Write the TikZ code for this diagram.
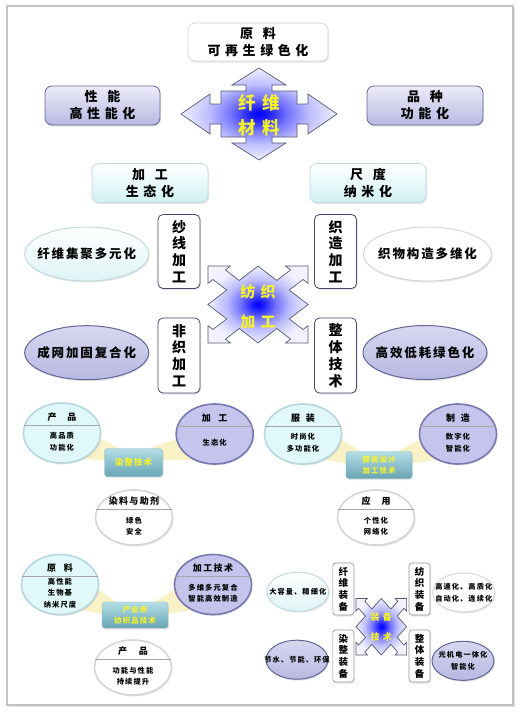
\documentclass[tikz,border=0pt]{standalone}
\usepackage{fontspec}
\setmainfont{Noto Sans CJK SC}
\newfontfamily\widefont{Noto Sans CJK SC}[LetterSpace=35]
\newfontfamily\midfont{Noto Sans CJK SC}[LetterSpace=15]
\usetikzlibrary{shapes.geometric,shadows,calc,backgrounds}

\definecolor{lavtop}{RGB}{236,236,250}
\definecolor{lavbot}{RGB}{184,184,226}
\definecolor{lavline}{RGB}{100,100,150}
\definecolor{cyanbot}{RGB}{208,240,242}
\definecolor{cyanline}{RGB}{196,218,222}
\definecolor{navyline}{RGB}{72,72,110}
\definecolor{tealtop}{RGB}{180,222,230}
\definecolor{tealbot}{RGB}{104,164,180}
\definecolor{txtyellow}{RGB}{246,242,40}
\definecolor{glowy}{RGB}{250,240,190}
\definecolor{framegray}{RGB}{195,195,195}
\definecolor{ringgray}{RGB}{214,214,214}
\definecolor{cyanfill}{RGB}{224,248,250}
\definecolor{cyanring}{RGB}{184,214,220}
\definecolor{lavfill}{RGB}{196,196,236}
\definecolor{lavring}{RGB}{120,120,176}

\pgfdeclareradialshading{bluecore}{\pgfpoint{0bp}{0bp}}{%
  color(0bp)=(blue); color(3bp)=(blue!88!white); color(9bp)=(blue!55!white);
  color(16bp)=(blue!26!white); color(25bp)=(blue!6!white); color(50bp)=(white)}

% cross arrow, arms on the diagonals (unit frame, tips at distance 2)
\newcommand{\xarrowshape}{(1,-1) -- (1,-.25) -- (1.55,-.25) -- (1.55,-.45) -- (2,0)
  -- (1.55,.45) -- (1.55,.25) -- (1,.25) -- (1,1) -- (.25,1) -- (.25,1.55) -- (.45,1.55)
  -- (0,2) -- (-.45,1.55) -- (-.25,1.55) -- (-.25,1) -- (-1,1) -- (-1,.25) -- (-1.55,.25)
  -- (-1.55,.45) -- (-2,0) -- (-1.55,-.45) -- (-1.55,-.25) -- (-1,-.25) -- (-1,-1)
  -- (-.25,-1) -- (-.25,-1.55) -- (-.45,-1.55) -- (0,-2) -- (.45,-1.55) -- (.25,-1.55)
  -- (.25,-1) -- cycle}

% round badge with title, divider and body
\newcommand{\disc}[6]{%
  \node[#4] (#1) at (#2,#3) {};
  \draw[divline] (#1.168) -- (#1.12);
  \node[disctitle] (#1-t) at (#2,#3-16) {#5};
  \node[discbody] (#1-b) at (#2,#3+8.5) {#6};
}

\tikzset{
  softshadow/.style={drop shadow={shadow xshift=1pt,shadow yshift=-1.5pt,opacity=.2}},
  outerframe/.style={draw=framegray,line width=1.5pt,fill=white,
    drop shadow={shadow xshift=1.5pt,shadow yshift=-1.5pt,opacity=.25}},
  headbox/.style={rectangle,rounded corners=7pt,minimum width=116pt,minimum height=39pt,
    align=center,inner sep=1pt,font=\widefont\bfseries\fontsize{13}{17}\selectfont,softshadow},
  lavbox/.style={headbox,draw=lavline,line width=.8pt,top color=lavtop,bottom color=lavbot},
  cyanbox/.style={headbox,draw=cyanline,line width=.8pt,top color=white,bottom color=cyanbot},
  whitebox/.style={headbox,draw=ringgray,line width=.8pt,fill=white},
  vbox/.style={rectangle,rounded corners=5pt,draw=navyline,line width=.8pt,fill=white,
    minimum width=42pt,minimum height=74pt,align=center,inner sep=1pt,
    font=\bfseries\fontsize{14}{16.8}\selectfont,softshadow},
  smallv/.style={vbox,rounded corners=3pt,line width=.6pt,draw=navyline!60,
    minimum width=21pt,minimum height=52pt,font=\bfseries\fontsize{9.5}{11.7}\selectfont},
  oval/.style={ellipse,inner sep=0pt,line width=1pt,softshadow},
  bigoval/.style={minimum width=124pt,minimum height=54pt},
  smalloval/.style={minimum width=62pt,minimum height=39pt},
  ovalcyan/.style={oval,draw=cyanline,top color=white,bottom color=cyanbot!70},
  ovalwhite/.style={oval,draw=ringgray,fill=white},
  ovallav/.style={oval,draw=lavline,top color=lavtop!60!lavbot,bottom color=lavbot},
  ovaltext/.style={align=center,font=\midfont\bfseries\fontsize{12.5}{15}\selectfont},
  smalltext/.style={align=center,font=\midfont\bfseries\fontsize{7.2}{11.7}\selectfont},
  disc/.style={ellipse,inner sep=0pt,minimum width=77pt,minimum height=60pt,line width=1.6pt,softshadow},
  disccyan/.style={disc,draw=cyanring,fill=cyanfill},
  disclav/.style={disc,draw=lavring,fill=lavfill},
  discwhite/.style={disc,draw=ringgray,fill=white,minimum height=55pt},
  divline/.style={draw=gray!70,line width=.5pt},
  disctitle/.style={font=\midfont\bfseries\fontsize{9}{11}\selectfont},
  discbody/.style={align=center,font=\midfont\bfseries\fontsize{7.3}{11.5}\selectfont},
  techbox/.style={rectangle,rounded corners=3pt,draw=tealbot!80,top color=tealtop,bottom color=tealbot,
    minimum width=58pt,minimum height=28pt,align=center,inner sep=1pt,text=txtyellow,
    font=\midfont\bfseries\fontsize{8.3}{11}\selectfont,softshadow},
  techtwo/.style={techbox,minimum width=66pt,minimum height=27pt,font=\midfont\bfseries\fontsize{7.4}{10.5}\selectfont},
  glow/.style={fill=glowy,fill opacity=.85},
  quadarrow/.style={draw=navyline!70!gray,line width=.7pt,shading=bluecore},
  coretext/.style={align=center,text=txtyellow,font=\widefont\bfseries\fontsize{17.5}{25}\selectfont},
}

\begin{document}
\begin{tikzpicture}[x=1pt,y=-1pt]
\useasboundingbox (0,0) rectangle (520,713);
\begin{scope}[on background layer]
\fill[white] (0,0) rectangle (520,713);
\draw[outerframe] (7,6) rectangle (513,705);
\end{scope}

% fibre materials
\node[whitebox,minimum width=140pt,minimum height=38pt] (yuanliao) at (258,42) {原\hspace{10pt}料\\可再生绿色化};
\node[lavbox,minimum width=115pt] (xingneng) at (102.5,105.5) {性\hspace{10pt}能\\高性能化};
\node[lavbox] (pinzhong) at (425,105.5) {品\hspace{10pt}种\\功能化};
\draw[quadarrow] (259,68) -- (286,85) -- (272,85) -- (272,91) -- (297,91) -- (297,104)
  -- (308,104) -- (308,94) -- (337,114) -- (308,134) -- (308,124) -- (297,124) -- (297,137)
  -- (272,137) -- (272,143) -- (286,143) -- (259,160) -- (232,143) -- (246,143) -- (246,137)
  -- (221,137) -- (221,124) -- (210,124) -- (210,134) -- (181,114) -- (210,94) -- (210,104)
  -- (221,104) -- (221,91) -- (246,91) -- (246,85) -- (232,85) -- cycle;
\node[coretext] (xwcl) at (259,115.5) {纤维\\材料};

% textile processing
\node[cyanbox] (jiagong) at (150,183) {加\hspace{10pt}工\\生态化};
\node[cyanbox] (chidu) at (368,183) {尺\hspace{10pt}度\\纳米化};
\node[vbox] (shaxian) at (179,251.5) {纱\\线\\加\\工};
\node[vbox] (zhizao) at (335.5,251.5) {织\\造\\加\\工};
\node[vbox,minimum height=75pt] (feizhi) at (179,355.5) {非\\织\\加\\工};
\node[vbox,minimum height=75pt] (zhengti) at (335.5,355.5) {整\\体\\技\\术};
\node[ovalcyan,bigoval,label={[ovaltext]center:纤维集聚多元化}] (jiju) at (86.7,254) {};
\node[ovalwhite,bigoval,minimum width=128pt,label={[ovaltext]center:织物构造多维化}] (gouzao) at (427.5,254) {};
\node[ovallav,bigoval,label={[ovaltext]center:成网加固复合化}] (chengwang) at (86.7,352.7) {};
\node[ovallav,bigoval,label={[ovaltext]center:高效低耗绿色化}] (gaoxiao) at (425,352.5) {};
\draw[quadarrow,shift={(258,304.5)},xscale=35.4,yscale=27.2,rotate=45] \xarrowshape;
\node[coretext,font=\widefont\bfseries\fontsize{15}{30}\selectfont] (fzjg) at (258,307) {纺织\\加工};

% dyeing and finishing
\disc{chanpin}{62}{433}{disccyan}{产\hspace{11pt}品}{高品质\\功能化}
\disc{jgong}{214.7}{434}{disclav}{加\hspace{7.5pt}工}{生态化}
\disc{ranliao}{134}{517.5}{discwhite}{染料与助剂}{绿色\\安全}
\node[techbox] (ranzheng) at (133.5,462.5) {染整技术};

% garments
\disc{fuzhuang}{303}{434}{disccyan}{服\hspace{6pt}装}{时尚化\\多功能化}
\disc{zhizao2}{458}{434}{disclav}{制\hspace{6pt}造}{数字化\\智能化}
\disc{yingyong}{376}{517.5}{discwhite}{应\hspace{11pt}用}{个性化\\网络化}
\node[techtwo] (fzsj) at (379,465) {服装设计\\加工技术};

% technical textiles
\disc{yuanliao2}{60}{584.5}{disccyan}{原\hspace{8pt}料}{高性能\\生物基\\纳米尺度}
\disc{jgjs}{213}{584.5}{disclav}{加工技术}{多维多元复合\\智能高效制造}
\disc{chanpin2}{133}{667.5}{discwhite}{产\hspace{12pt}品}{功能与性能\\持续提升}
\node[techtwo,minimum height=26pt] (cyy) at (135,615) {产业用\\纺织品技术};

\begin{scope}[on background layer]
\fill[glow] (chanpin.-8) -- ($(ranzheng.north west)+(14,0)$) -- ($(ranzheng.north west)+(0,12)$) -- (chanpin.-50) -- cycle;
\fill[glow] (jgong.188) -- ($(ranzheng.north east)+(-14,0)$) -- ($(ranzheng.north east)+(0,12)$) -- (jgong.230) -- cycle;
\fill[glow] (fuzhuang.-8) -- ($(fzsj.north west)+(14,0)$) -- ($(fzsj.north west)+(0,12)$) -- (fuzhuang.-50) -- cycle;
\fill[glow] (zhizao2.188) -- ($(fzsj.north east)+(-14,0)$) -- ($(fzsj.north east)+(0,12)$) -- (zhizao2.230) -- cycle;
\fill[glow] (yuanliao2.-8) -- ($(cyy.north west)+(14,0)$) -- ($(cyy.north west)+(0,12)$) -- (yuanliao2.-50) -- cycle;
\fill[glow] (jgjs.188) -- ($(cyy.north east)+(-14,0)$) -- ($(cyy.north east)+(0,12)$) -- (jgjs.230) -- cycle;
\end{scope}

% equipment
\node[smallv] (xwzb) at (343.3,589) {纤\\维\\装\\备};
\node[smallv] (fzzb) at (419.5,589) {纺\\织\\装\\备};
\node[smallv] (rzzb) at (343.3,656) {染\\整\\装\\备};
\node[smallv] (ztzb) at (419.5,656) {整\\体\\装\\备};
\node[ovalcyan,smalloval,label={[smalltext]center:大容量、精细化}] (darl) at (297.8,591.7) {};
\node[ovalwhite,smalloval,label={[smalltext]center:{高速化、高质化\\自动化、连续化}}] (gaosu) at (463.8,592.5) {};
\node[ovallav,smalloval,label={[smalltext]center:节水、节能、环保}] (jieshui) at (297,659.7) {};
\node[ovallav,smalloval,label={[smalltext]center:{光机电一体化\\智能化}}] (guangji) at (463,660.8) {};
\draw[quadarrow,shift={(381.3,626.7)},xscale=17.9,yscale=20,rotate=45] \xarrowshape;
\node[coretext,font=\widefont\bfseries\fontsize{9}{20}\selectfont] (zbjs) at (381.3,626.7) {装备\\技术};
\end{tikzpicture}
\end{document}
